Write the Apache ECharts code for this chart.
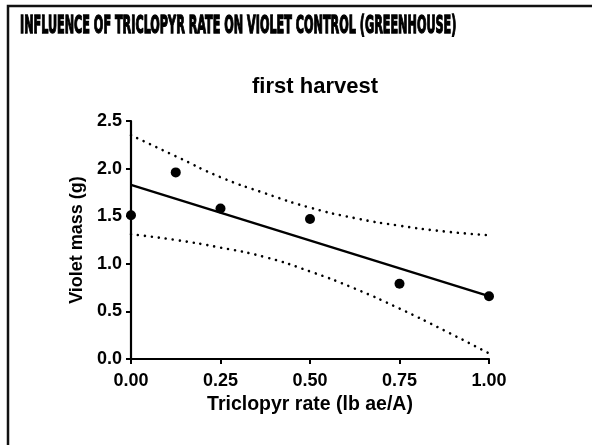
<!DOCTYPE html>
<html>
<head>
<meta charset="utf-8">
<script src="https://cdn.jsdelivr.net/npm/echarts@6/dist/echarts.min.js"></script>
<style>
  html, body { margin: 0; padding: 0; background: #fff; }
  #chart { width: 592px; height: 445px; }
</style>
</head>
<body>
<div id="chart"></div>
<script>
// 数据
var rates = [0, 0.125, 0.25, 0.5, 0.75, 1.0]
var mass = [1.51, 1.96, 1.58, 1.47, 0.79, 0.66]

// 回归线两端
var fitX = [0, 1]
var fitY = [1.83, 0.66]

// 95% 置信带（虚线）
var bandX = [0, 0.125, 0.25, 0.375, 0.5, 0.625, 0.75, 0.875, 1.0]
var bandUpper = [2.35, 2.13, 1.91, 1.74, 1.59, 1.48, 1.40, 1.34, 1.30]
var bandLower = [1.31, 1.25, 1.17, 1.07, 0.92, 0.74, 0.53, 0.30, 0.06]

var yTicks = [0, 0.5, 1.0, 1.5, 2.0, 2.5]
var xTicks = [0, 0.25, 0.5, 0.75, 1.0]

var pageTitle = 'INFLUENCE OF TRICLOPYR RATE ON VIOLET CONTROL (GREENHOUSE)'

function pairs(xs, ys) {
  return xs.map(function (x, i) { return [x, ys[i]] })
}

// 标题字体压缩到原图宽度
var titleSize = 20
var titleFamily = 'DejaVu Sans Condensed'
var ctx = document.createElement('canvas').getContext('2d')
ctx.font = 'bold ' + titleSize + 'px "' + titleFamily + '"'
var titleScale = 437 / (ctx.measureText(pageTitle).width + 1)

var chart = echarts.init(document.getElementById('chart'))
chart.setOption({
  animation: false,
  backgroundColor: '#fff',
  title: {
    text: 'first harvest',
    left: 310,
    textAlign: 'center',
    top: 71,
    textStyle: {
      color: '#000',
      fontFamily: 'Liberation Sans',
      fontWeight: 'bold',
      fontSize: 22
    }
  },
  graphic: [
    {
      type: 'polyline',
      shape: { points: [[8, 450], [8, 6], [600, 6]] },
      style: { stroke: '#111', lineWidth: 2.5, fill: 'none' }
    },
    {
      type: 'text',
      x: 20,
      y: 14,
      scaleX: titleScale,
      scaleY: 1.22,
      style: {
        text: pageTitle,
        fontSize: titleSize,
        fontFamily: titleFamily,
        fontWeight: 'bold',
        fill: '#000',
        stroke: '#000',
        lineWidth: 1.1
      }
    }
  ],
  grid: {
    left: 131,
    right: 103,
    top: 121,
    bottom: 86
  },
  xAxis: {
    type: 'value',
    min: 0,
    max: 1,
    interval: 0.25,
    name: 'Triclopyr rate (lb ae/A)',
    nameLocation: 'middle',
    nameGap: 36,
    nameTextStyle: {
      color: '#000',
      fontFamily: 'Liberation Sans',
      fontWeight: 'bold',
      fontSize: 19.5
    },
    axisLine: { lineStyle: { color: '#000', width: 2.2 } },
    axisTick: { show: true, length: 5, lineStyle: { color: '#000', width: 2 } },
    axisLabel: {
      color: '#000',
      fontFamily: 'Liberation Sans',
      fontWeight: 'bold',
      fontSize: 18,
      margin: 13,
      formatter: function (v) { return v.toFixed(2) }
    },
    splitLine: { show: false }
  },
  yAxis: {
    type: 'value',
    min: 0,
    max: 2.5,
    interval: 0.5,
    name: 'Violet mass (g)',
    nameLocation: 'middle',
    nameGap: 35,
    nameTextStyle: {
      color: '#000',
      fontFamily: 'Liberation Sans',
      fontWeight: 'bold',
      fontSize: 18
    },
    axisLine: { show: true, lineStyle: { color: '#000', width: 2.2 } },
    axisTick: { show: true, length: 5, lineStyle: { color: '#000', width: 2 } },
    axisLabel: {
      color: '#000',
      fontFamily: 'Liberation Sans',
      fontWeight: 'bold',
      fontSize: 18,
      margin: 9,
      formatter: function (v) { return v.toFixed(1) }
    },
    splitLine: { show: false }
  },
  series: [
    {
      type: 'line',
      data: pairs(bandX, bandUpper),
      smooth: true,
      symbol: 'none',
      lineStyle: { color: '#000', width: 2.6, type: [0.01, 7], cap: 'round' },
      z: 2
    },
    {
      type: 'line',
      data: pairs(bandX, bandLower),
      smooth: true,
      symbol: 'none',
      lineStyle: { color: '#000', width: 2.6, type: [0.01, 7], cap: 'round' },
      z: 2
    },
    {
      type: 'line',
      data: pairs(fitX, fitY),
      symbol: 'none',
      lineStyle: { color: '#000', width: 2.4 },
      z: 3
    },
    {
      type: 'scatter',
      data: pairs(rates, mass),
      symbol: 'circle',
      symbolSize: 10,
      itemStyle: { color: '#000', opacity: 1 },
      z: 4
    }
  ]
})
</script>
</body>
</html>
